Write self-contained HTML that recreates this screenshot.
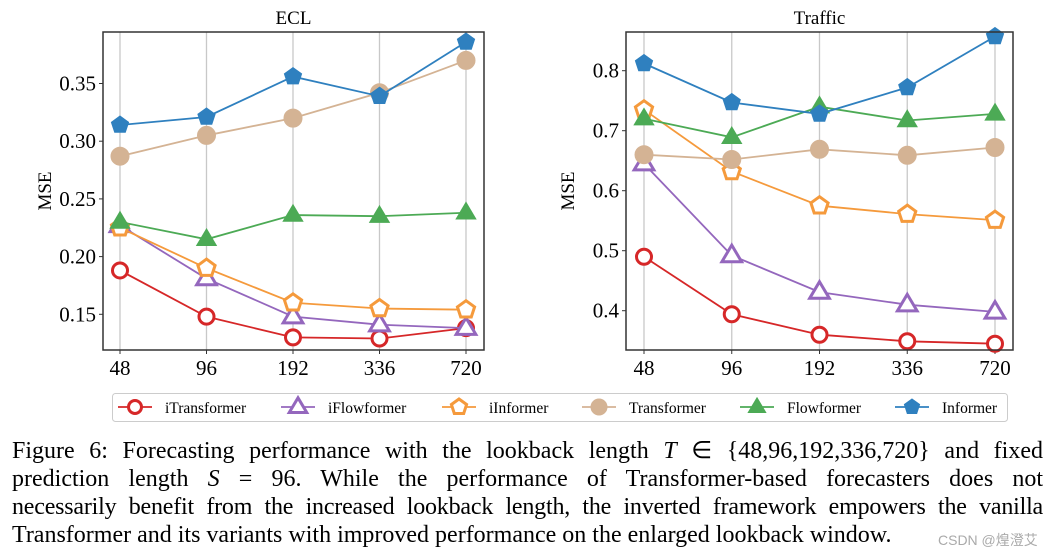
<!DOCTYPE html>
<html><head><meta charset="utf-8"><style>
body{margin:0;width:1049px;height:557px;background:#fff;overflow:hidden;position:relative;font-family:"Liberation Serif",serif}
.cap{position:absolute;left:12px;width:1031px;font-size:24px;line-height:28px;color:#000;white-space:nowrap}
.j{text-align:justify;text-align-last:justify;white-space:normal;height:28px;overflow:visible}
i{font-family:"Liberation Serif",serif}
</style></head><body>
<svg id="svg" width="1049" height="557" style="position:absolute;left:0;top:0"></svg>
<div class="cap j" style="top:437px">Figure 6: Forecasting performance with the lookback length <i>T</i> ∈ {48,96,192,336,720} and fixed</div>
<div class="cap j" style="top:465px">prediction length <i>S</i> = 96. While the performance of Transformer-based forecasters does not</div>
<div class="cap j" style="top:493px;letter-spacing:-0.2px">necessarily benefit from the increased lookback length, the inverted framework empowers the vanilla</div>
<div class="cap" style="top:521px">Transformer and its variants with improved performance on the enlarged lookback window.</div>
<div style="position:absolute;left:938px;top:530px;font:14px 'Liberation Sans','Noto Sans CJK SC',sans-serif;color:#aaa">CSDN @煌澄艾</div>
<script>
const categories=["48","96","192","336","720"];
const seriesNames=["iTransformer","iFlowformer","iInformer","Transformer","Flowformer","Informer"];
const eclITransformer=[0.188,0.148,0.130,0.129,0.138];
const eclIFlowformer=[0.227,0.181,0.148,0.141,0.138];
const eclIInformer=[0.225,0.190,0.160,0.155,0.154];
const eclTransformer=[0.287,0.305,0.320,0.342,0.370];
const eclFlowformer=[0.230,0.215,0.236,0.235,0.238];
const eclInformer=[0.314,0.321,0.356,0.339,0.386];
const trITransformer=[0.490,0.394,0.360,0.349,0.345];
const trIFlowformer=[0.645,0.492,0.431,0.410,0.398];
const trIInformer=[0.735,0.632,0.575,0.561,0.551];
const trTransformer=[0.660,0.652,0.669,0.659,0.672];
const trFlowformer=[0.720,0.689,0.740,0.717,0.728];
const trInformer=[0.812,0.747,0.728,0.772,0.857];
const eclTicks=[0.15,0.20,0.25,0.30,0.35];
const eclTickLabels=["0.15","0.20","0.25","0.30","0.35"];
const trTicks=[0.4,0.5,0.6,0.7,0.8];
const trTickLabels=["0.4","0.5","0.6","0.7","0.8"];

const styles=[
 {c:"#d62728",m:"circle",open:true},
 {c:"#9467bd",m:"tri",open:true},
 {c:"#f59a3c",m:"pent",open:true},
 {c:"#d4b394",m:"circle",open:false},
 {c:"#4caa55",m:"tri",open:false},
 {c:"#2f80bf",m:"pent",open:false}];
const NS="http://www.w3.org/2000/svg";
const svg=document.getElementById('svg');
function mk(t,a,p){const e=document.createElementNS(NS,t);for(const k in a)e.setAttribute(k,a[k]);(p||svg).appendChild(e);return e;}
function marker(g,st,x,y,r,name){
 let e;
 const fill=st.open?"#fff":st.c, sw=st.open?3:1;
 if(st.m==="circle"){e=mk('circle',{cx:x,cy:y,r:st.open?r-1.5:r,fill:fill,stroke:st.c,'stroke-width':sw},g);}
 else if(st.m==="tri"){const R=r*1.15;e=mk('polygon',{points:`${x},${y-R} ${x+R*0.95},${y+R*0.6} ${x-R*0.95},${y+R*0.6}`,fill:fill,stroke:st.c,'stroke-width':sw,'stroke-linejoin':'miter'},g);}
 else{let p=[];for(let k=0;k<5;k++){const a=-Math.PI/2+k*2*Math.PI/5;p.push((x+r*Math.cos(a)).toFixed(1)+","+(y+r*Math.sin(a)).toFixed(1));}
  e=mk('polygon',{points:p.join(' '),fill:fill,stroke:st.c,'stroke-width':sw},g);}
 
 
}
function chart(cfg){
 const g=mk('g',{});
 
 
 const xs=i=>cfg.x0+i*(cfg.x1-cfg.x0)/(categories.length-1);
 const ys=v=>cfg.yRef-(v-cfg.vRef)*cfg.pxPer;
 categories.forEach((c,i)=>{
  const l=mk('line',{x1:xs(i),x2:xs(i),y1:cfg.top,y2:cfg.bot,stroke:'#c8c8c8','stroke-width':1.3},g);
  
  
  mk('line',{x1:xs(i),x2:xs(i),y1:cfg.bot,y2:cfg.bot+4,stroke:'#333'},g);
  const t=mk('text',{x:xs(i),y:cfg.bot+25,'text-anchor':'middle','font-size':21},g);t.textContent=c;
  
  
 });
 cfg.ticks.forEach((v,i)=>{
  mk('line',{x1:cfg.left-4,x2:cfg.left,y1:ys(v),y2:ys(v),stroke:'#333'},g);
  const t=mk('text',{x:cfg.left-7,y:ys(v)+7,'text-anchor':'end','font-size':21},g);t.textContent=cfg.labels[i];
  
  
 });
 const yt=mk('text',{transform:`translate(${cfg.left-52},${(cfg.top+cfg.bot)/2}) rotate(-90)`,'text-anchor':'middle','font-size':19},g);yt.textContent='MSE';
 
 
 const tt=mk('text',{x:(cfg.left+cfg.right)/2,y:cfg.top-8,'text-anchor':'middle','font-size':19},g);tt.textContent=cfg.title;
 
 
 cfg.series.forEach((arr,s)=>{
  const st=styles[s];
  const pl=mk('polyline',{points:arr.map((v,i)=>xs(i)+','+ys(v)).join(' '),fill:'none',stroke:st.c,'stroke-width':1.8},g);
  
  
  arr.forEach((v,i)=>marker(g,st,xs(i),ys(v),9,'point-'+seriesNames[s].toLowerCase()));
 });
 const b=mk('rect',{x:cfg.left,y:cfg.top,width:cfg.right-cfg.left,height:cfg.bot-cfg.top,fill:'none',stroke:'#333','stroke-width':1.5},g);
 
 
}
chart({name:'ecl-chart',title:'ECL',left:103,right:484,top:32,bot:350,x0:120,x1:466,yRef:314.3,vRef:0.15,pxPer:1154,
 ticks:eclTicks,labels:eclTickLabels,series:[eclITransformer,eclIFlowformer,eclIInformer,eclTransformer,eclFlowformer,eclInformer]});
chart({name:'traffic-chart',title:'Traffic',left:626,right:1013,top:32,bot:350,x0:644,x1:995,yRef:310.7,vRef:0.4,pxPer:600,
 ticks:trTicks,labels:trTickLabels,series:[trITransformer,trIFlowformer,trIInformer,trTransformer,trFlowformer,trInformer]});
const lg=mk('g',{});


mk('rect',{x:112.5,y:393.5,width:895,height:28,rx:3,fill:'#fff',stroke:'#ccc'},lg);
const lx=[135,298,459,599,757,912];
seriesNames.forEach((n,s)=>{
 const st=styles[s];
 const e=mk('g',{},lg);
 
 
 mk('line',{x1:lx[s]-17,x2:lx[s]+17,y1:407,y2:407,stroke:st.c,'stroke-width':1.8},e);
 marker(e,st,lx[s],407,8,'legend-marker');
 const t=mk('text',{x:lx[s]+30,y:413,'font-size':15.5},e);t.textContent=n;
});
</script>
</body></html>
